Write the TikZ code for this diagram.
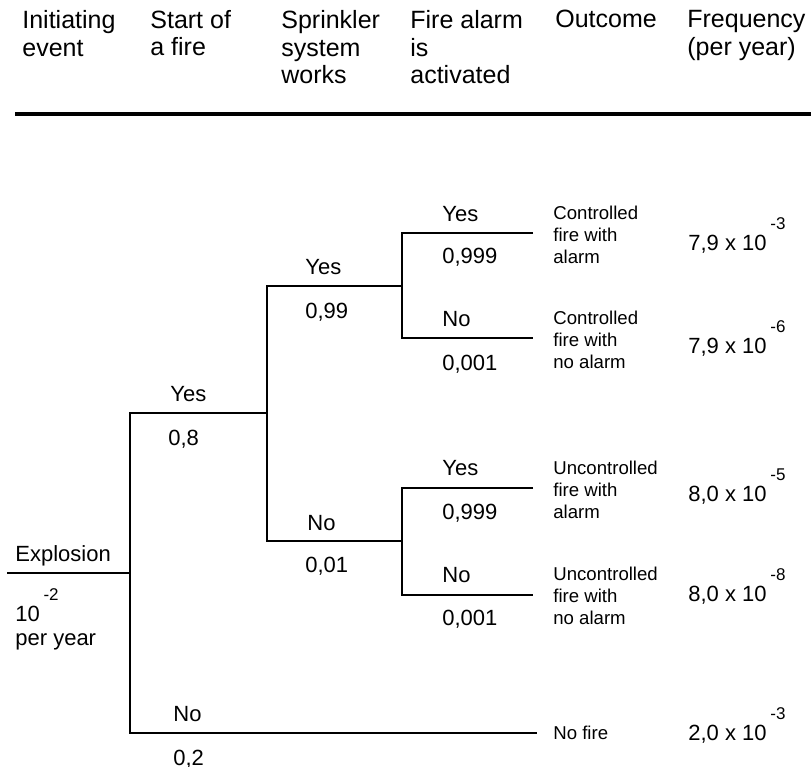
\documentclass[tikz,border=0pt]{standalone}
\usepackage{fontspec}
\setmainfont{Liberation Sans}
\newcommand{\supx}[1]{\,\raisebox{10.5pt}{\fontsize{8.5}{9}\selectfont #1}}

\begin{document}
\begin{tikzpicture}[x=0.5pt,y=-0.5pt,
    head/.style={anchor=north west,align=left,inner sep=0pt,font=\fontsize{12.5}{13.75}\selectfont},
    lbl/.style={anchor=base west,inner sep=0pt,font=\fontsize{11}{13}\selectfont},
    outc/.style={anchor=west,align=left,inner sep=0pt,font=\fontsize{9.3}{11}\selectfont},
    freq/.style={anchor=base west,inner sep=0pt,font=\fontsize{11}{13}\selectfont},
    branch/.style={line width=1.25pt}]
                    \useasboundingbox (0,0) rectangle (811,767);

                    % header
                    \path
                    (22,10) node[head](hinit) {Initiating\\event}
                    (150,10) node[head](hfire) {Start of\\a fire}
                    (281,10) node[head](hspr) {Sprinkler\\system\\works}
                    (410,10) node[head](halarm) {Fire alarm\\is\\activated}
                    (555,10) node[head](hout) {Outcome}
                    (687,10) node[head](hfreq) {Frequency\\(per year)};
                    \coordinate (rulel) at (15,114);
                    \coordinate (ruler) at (811,114);
                    \draw[line width=2.2pt] (rulel) -- (ruler);

                    % branch points
                    \coordinate (ev0) at (7,573);
                    \coordinate (ev) at (130,573);
                    \coordinate (fy) at (130,413);
                    \coordinate (fyend) at (267,413);
                    \coordinate (fn) at (130,733);
                    \coordinate (fnend) at (537,733);
                    \coordinate (sy) at (267,286);
                    \coordinate (syend) at (402,286);
                    \coordinate (sn) at (267,541);
                    \coordinate (snend) at (402,541);
                    \coordinate (ayy) at (402,233);
                    \coordinate (ayyend) at (533,233);
                    \coordinate (ayn) at (402,338);
                    \coordinate (aynend) at (533,338);
                    \coordinate (any) at (402,488);
                    \coordinate (anyend) at (533,488);
                    \coordinate (ann) at (402,595);
                    \coordinate (annend) at (533,595);

                    \draw[branch] (ev0) -- (ev);
                    \draw[branch] (fyend) -- (fy) -- (fn) -- (fnend);
                    \draw[branch] (syend) -- (sy) -- (sn) -- (snend);
                    \draw[branch] (ayyend) -- (ayy) -- (ayn) -- (aynend);
                    \draw[branch] (anyend) -- (any) -- (ann) -- (annend);

                    % branch labels
                    \path
                    (15,561) node[lbl](expl) {Explosion}
                    (15,621) node[lbl](rate) {10\supx{-2}}
                    (15,645) node[lbl](peryear) {per year}
                    (170,401) node[lbl](fyes) {Yes}
                    (168,445) node[lbl](fyesp) {0,8}
                    (173,721) node[lbl](fno) {No}
                    (173,765) node[lbl](fnop) {0,2}
                    (305,274) node[lbl](syes) {Yes}
                    (305,318) node[lbl](syesp) {0,99}
                    (307,530) node[lbl](sno) {No}
                    (305,572) node[lbl](snop) {0,01}
                    (442,221) node[lbl](ayyes) {Yes}
                    (442,263) node[lbl](ayyesp) {0,999}
                    (442,326) node[lbl](ayno) {No}
                    (442,370) node[lbl](aynop) {0,001}
                    (442,475) node[lbl](anyes) {Yes}
                    (442,519) node[lbl](anyesp) {0,999}
                    (442,582) node[lbl](anno) {No}
                    (442,625) node[lbl](annop) {0,001};

                    % outcomes
                    \path
                    (553,235) node[outc](o1) {Controlled\\fire with\\alarm}
                    (553,340) node[outc](o2) {Controlled\\fire with\\no alarm}
                    (553,490) node[outc](o3) {Uncontrolled\\fire with\\alarm}
                    (553,596) node[outc](o4) {Uncontrolled\\fire with\\no alarm}
                    (553,733) node[outc](o5) {No fire};

                    % frequencies
                    \path
                    (688,250) node[freq](f1) {7,9 x 10\supx{-3}}
                    (688,353) node[freq](f2) {7,9 x 10\supx{-6}}
                    (688,501) node[freq](f3) {8,0 x 10\supx{-5}}
                    (688,601) node[freq](f4) {8,0 x 10\supx{-8}}
                    (688,740) node[freq](f5) {2,0 x 10\supx{-3}};
                \end{tikzpicture}
\end{document}
